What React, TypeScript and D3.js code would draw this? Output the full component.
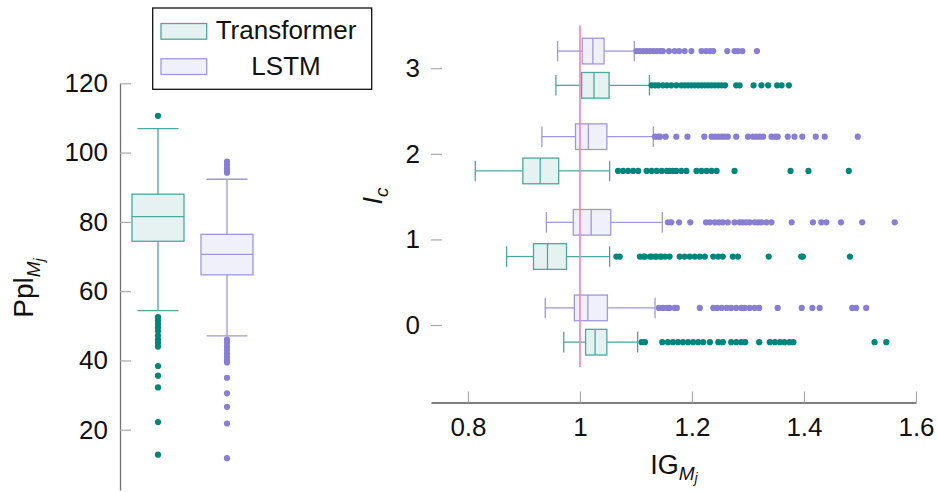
import React, { useEffect, useRef } from 'react';
import * as d3 from 'd3';

const models = ['Transformer', 'LSTM'];

// box stats: lower whisker, q1, median, q3, upper whisker
const pplBoxTransformer = [54.4, 74.4, 81.5, 88.0, 106.9];
const pplBoxLSTM = [47.1, 64.7, 70.6, 76.4, 92.3];
const pplOutTransformer = [110.6, 52.5, 51.5, 50.5, 49.5, 48.5, 47.2, 46, 45, 44, 38.4, 35.6, 32.2, 22.2, 12.8];
const pplOutLSTM = [97.4, 96.5, 95.5, 94.7, 94.2, 46, 45, 44, 43, 42, 41, 40, 39.4, 35, 30.5, 26.6, 21.8, 11.8];
const pplTicks = [20, 40, 60, 80, 100, 120];

const icCats = [0, 1, 2, 3];
const igTicks = [0.8, 1, 1.2, 1.4, 1.6];

const igBoxTransformer = [
  [0.971, 1.010, 1.027, 1.048, 1.103],
  [0.869, 0.917, 0.942, 0.976, 1.053],
  [0.813, 0.898, 0.929, 0.962, 1.053],
  [0.957, 1.003, 1.025, 1.052, 1.124],
];
const igBoxLSTM = [
  [0.938, 0.990, 1.014, 1.049, 1.134],
  [0.940, 0.988, 1.020, 1.055, 1.147],
  [0.932, 0.992, 1.015, 1.048, 1.131],
  [0.960, 1.004, 1.023, 1.043, 1.097],
];

const igOutTransformer = [
  [1.110, 1.116, 1.147, 1.157, 1.166, 1.175, 1.184, 1.193, 1.202, 1.211, 1.220, 1.232, 1.247, 1.255, 1.270,
    1.279, 1.288, 1.295, 1.320, 1.339, 1.348, 1.357, 1.365, 1.374, 1.381, 1.526, 1.547],
  [1.065, 1.071, 1.107, 1.113, 1.116, 1.125, 1.128, 1.134, 1.137, 1.143, 1.146, 1.152, 1.160, 1.178, 1.187,
    1.196, 1.205, 1.214, 1.223, 1.238, 1.247, 1.255, 1.273, 1.282, 1.337, 1.395, 1.398, 1.482],
  [1.068, 1.077, 1.086, 1.095, 1.104, 1.119, 1.128, 1.137, 1.146, 1.155, 1.160, 1.166, 1.172, 1.181, 1.190,
    1.208, 1.217, 1.226, 1.235, 1.244, 1.276, 1.376, 1.408, 1.480],
  [1.128, 1.134, 1.140, 1.148, 1.155, 1.163, 1.172, 1.181, 1.187, 1.193, 1.199, 1.205, 1.211, 1.217, 1.223,
    1.229, 1.235, 1.241, 1.247, 1.253, 1.259, 1.279, 1.285, 1.310, 1.324, 1.336, 1.352, 1.360, 1.373],
];
const igOutLSTM = [
  [1.141, 1.148, 1.155, 1.160, 1.169, 1.173, 1.214, 1.238, 1.245, 1.253, 1.262, 1.270, 1.279, 1.288, 1.294,
    1.303, 1.312, 1.320, 1.353, 1.396, 1.415, 1.428, 1.486, 1.493, 1.511],
  [1.157, 1.163, 1.177, 1.197, 1.225, 1.232, 1.241, 1.248, 1.255, 1.264, 1.276, 1.285, 1.291, 1.297, 1.303,
    1.312, 1.318, 1.324, 1.333, 1.342, 1.378, 1.416, 1.431, 1.440, 1.466, 1.504, 1.562],
  [1.134, 1.140, 1.143, 1.153, 1.172, 1.192, 1.222, 1.235, 1.241, 1.247, 1.253, 1.258, 1.264, 1.279, 1.300,
    1.309, 1.315, 1.321, 1.327, 1.342, 1.348, 1.353, 1.371, 1.383, 1.397, 1.421, 1.437, 1.496],
  [1.101, 1.107, 1.113, 1.119, 1.125, 1.131, 1.137, 1.143, 1.148, 1.159, 1.169, 1.177, 1.187, 1.199, 1.217,
    1.225, 1.232, 1.238, 1.263, 1.276, 1.282, 1.290, 1.316],
];

const FONT = '"Liberation Sans", Arial, sans-serif';
const colors = {
  Transformer: { stroke: '#4ca79f', fill: '#e5f2f1', dot: '#00857d' },
  LSTM: { stroke: '#a097dc', fill: '#eff0fa', dot: '#8a7ed2' },
};

function drawBox(g, stats, pos, val, horizontal, thick, cap, c) {
  const [lo, q1, med, q3, hi] = stats.map(val);
  const line = (a1, b1, a2, b2) => {
    const [x1, y1, x2, y2] = horizontal ? [a1, b1, a2, b2] : [b1, a1, b2, a2];
    g.append('line')
      .attr('x1', x1).attr('y1', y1).attr('x2', x2).attr('y2', y2)
      .attr('stroke', c.stroke).attr('stroke-width', 1.3);
  };
  line(lo, pos, q1, pos);
  line(q3, pos, hi, pos);
  line(lo, pos - cap / 2, lo, pos + cap / 2);
  line(hi, pos - cap / 2, hi, pos + cap / 2);
  const r = g.append('rect').attr('fill', c.fill).attr('stroke', c.stroke).attr('stroke-width', 1.3);
  if (horizontal) {
    r.attr('x', q1).attr('y', pos - thick / 2).attr('width', q3 - q1).attr('height', thick);
  } else {
    r.attr('x', pos - thick / 2).attr('y', q3).attr('width', thick).attr('height', q1 - q3);
  }
  line(med, pos - thick / 2, med, pos + thick / 2);
}

function styleAxis(ax, domainColor) {
  ax.select('.domain').attr('stroke', domainColor).attr('stroke-width', 1.3);
  ax.selectAll('.tick line').attr('stroke', '#aaaaaa').attr('stroke-width', 1.2);
  ax.selectAll('.tick text').attr('fill', '#111').style('font-size', '26px').style('font-family', FONT);
}

export default function App() {
  const ref = useRef(null);

  useEffect(() => {
    const svg = d3.select(ref.current);
    svg.selectAll('*').remove();

    // ---------- left panel: perplexity ----------
    const yP = d3.scaleLinear().domain([2.6, 120]).range([490, 83.3]);
    const xP = d3.scalePoint().domain(models).range([158, 227]);

    const left = svg.append('g');
    const axP = left.append('g').attr('transform', 'translate(120,0)')
      .call(d3.axisLeft(yP).tickValues(pplTicks).tickSizeInner(-11).tickSizeOuter(0).tickPadding(12).tickFormat(d => String(d)));
    styleAxis(axP, '#707070');

    const pplBoxes = { Transformer: pplBoxTransformer, LSTM: pplBoxLSTM };
    const pplOut = { Transformer: pplOutTransformer, LSTM: pplOutLSTM };
    models.forEach(m => {
      drawBox(left, pplBoxes[m], xP(m), yP, false, 52, 41, colors[m]);
      left.selectAll(null).data(pplOut[m]).enter().append('circle')
        .attr('cx', xP(m)).attr('cy', d => yP(d)).attr('r', 3.1).attr('fill', colors[m].dot);
    });

    const pl = left.append('text').attr('transform', 'translate(33,288) rotate(-90)')
      .attr('text-anchor', 'middle').style('font-family', FONT).style('font-size', '28px').attr('fill', '#111');
    pl.append('tspan').text('Ppl');
    pl.append('tspan').attr('dy', 7).style('font-size', '19px').style('font-style', 'italic').text('M');
    pl.append('tspan').attr('dy', 4).style('font-size', '14px').style('font-style', 'italic').text('j');

    // ---------- right panel: information gain ----------
    const xI = d3.scaleLinear().domain([0.734, 1.6]).range([431, 916]);
    const yI = d3.scaleLinear().domain([-0.905, 3.5]).range([402.5, 25.4]);
    const right = svg.append('g');

    const axX = right.append('g').attr('transform', 'translate(0,402.5)')
      .call(d3.axisBottom(xI).tickValues(igTicks).tickSizeInner(-11).tickSizeOuter(0).tickPadding(15).tickFormat(d => String(d)));
    styleAxis(axX, '#555555');

    const axY = right.append('g').attr('transform', 'translate(431,0)')
      .call(d3.axisLeft(yI).tickValues(icCats).tickSizeInner(-11).tickSizeOuter(0).tickPadding(11).tickFormat(d => String(d)));
    styleAxis(axY, 'none');
    axY.select('.domain').remove();

    const thick = yI(0) - yI(0.3);
    const cap = yI(0) - yI(0.24);
    const igBoxes = { Transformer: igBoxTransformer, LSTM: igBoxLSTM };
    const igOut = { Transformer: igOutTransformer, LSTM: igOutLSTM };
    const offset = { Transformer: -0.2, LSTM: 0.2 };
    models.forEach(m => {
      icCats.forEach((c, i) => {
        const pos = yI(c + offset[m]);
        drawBox(right, igBoxes[m][i], pos, xI, true, thick, cap, colors[m]);
        right.selectAll(null).data(igOut[m][i]).enter().append('circle')
          .attr('cx', d => xI(d)).attr('cy', pos).attr('r', 3.1).attr('fill', colors[m].dot);
      });
    });

    right.append('line')
      .attr('x1', xI(1)).attr('x2', xI(1)).attr('y1', yI(3.5)).attr('y2', yI(-0.49))
      .attr('stroke', '#ff7cb8').attr('stroke-width', 1.6);

    const xl = right.append('text').attr('x', 674).attr('y', 474).attr('text-anchor', 'middle')
      .style('font-family', FONT).style('font-size', '27px').attr('fill', '#111');
    xl.append('tspan').text('IG');
    xl.append('tspan').attr('dy', 6).style('font-size', '19px').style('font-style', 'italic').text('M');
    xl.append('tspan').attr('dy', 3).style('font-size', '14px').style('font-style', 'italic').text('j');

    const yl = right.append('text').attr('transform', 'translate(382,196) rotate(-90)')
      .attr('text-anchor', 'middle').style('font-family', FONT).style('font-size', '27px').attr('fill', '#111');
    yl.append('tspan').style('font-style', 'italic').text('I');
    yl.append('tspan').attr('dy', 6).style('font-size', '19px').style('font-style', 'italic').text('c');

    // ---------- legend ----------
    const lg = svg.append('g');
    lg.append('rect').attr('x', 152.7).attr('y', 8).attr('width', 219).attr('height', 81.3)
      .attr('fill', 'white').attr('stroke', '#111').attr('stroke-width', 1.3);
    models.forEach((m, i) => {
      const yy = 23.5 + i * 35.3;
      lg.append('rect').attr('x', 161).attr('y', yy).attr('width', 45.7).attr('height', 15.7)
        .attr('fill', colors[m].fill).attr('stroke', colors[m].stroke).attr('stroke-width', 1.3);
      lg.append('text').attr('x', 286).attr('y', 39 + i * 35.7).attr('text-anchor', 'middle')
        .style('font-family', FONT).style('font-size', '26px').attr('fill', '#111').text(m);
    });
  }, []);

  return (
    <svg ref={ref} width={937} height={492}
      style={{ position: 'absolute', left: 0, top: 0, background: 'white' }} />
  );
}
